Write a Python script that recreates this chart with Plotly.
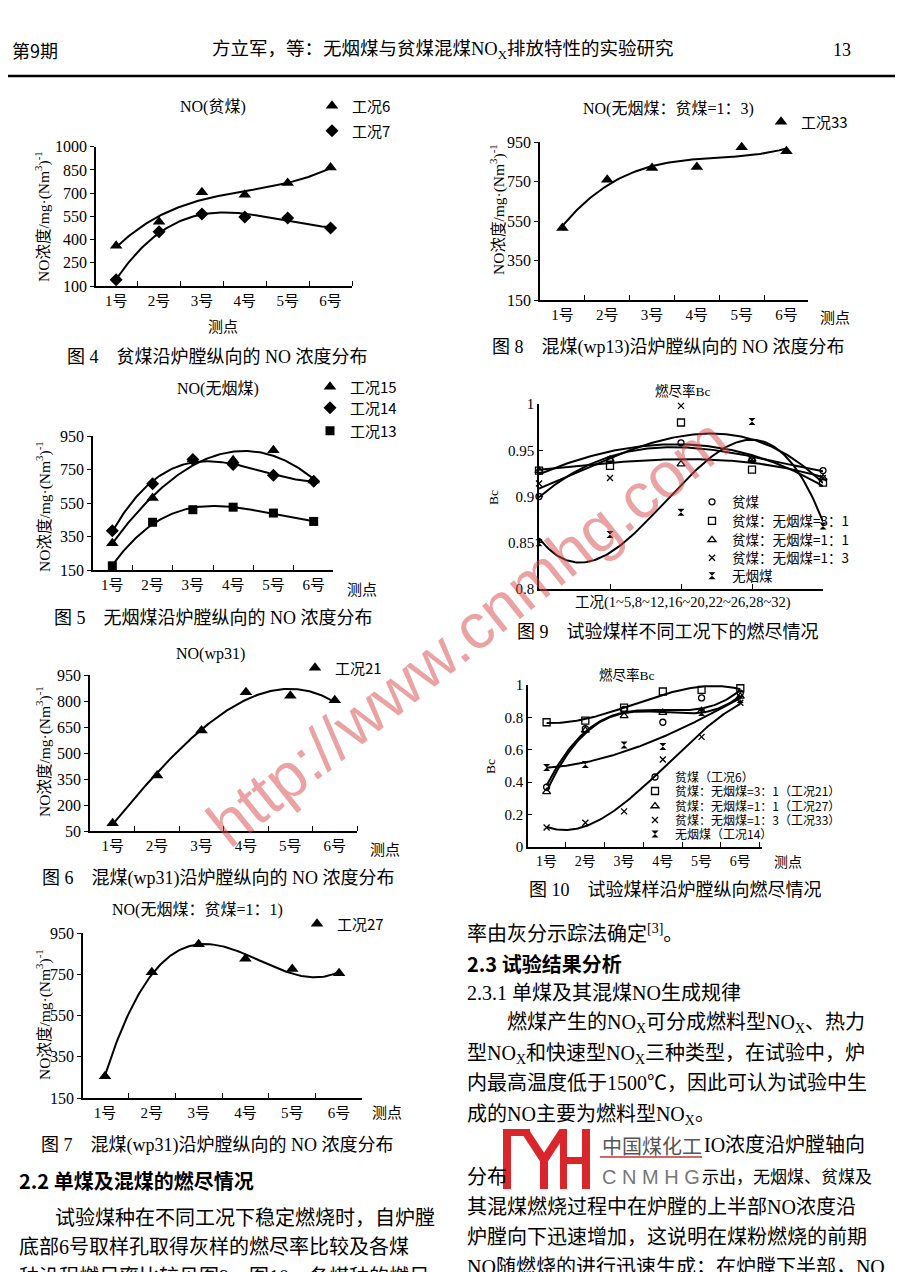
import numpy as np
import plotly.graph_objects as go

W, H = 904, 1272
OFF = 8  # page body margin of the browser
SERIF = "Liberation Serif, Noto Sans CJK SC, serif"
CJK = "Noto Sans CJK SC, Liberation Serif, sans-serif"

# ---------------- data ----------------
points = [1, 2, 3, 4, 5, 6]
point_labels = ["1号", "2号", "3号", "4号", "5号", "6号"]

fig4_case6 = [360, 515, 705, 690, 765, 865]
fig4_case7 = [140, 450, 565, 545, 540, 475]
fig8_case33 = [515, 760, 820, 825, 925, 905]
fig5_case15 = [310, 580, 810, 805, 865, 685]
fig5_case14 = [385, 665, 810, 780, 715, 680]
fig5_case13 = [175, 435, 510, 525, 490, 440]
fig6_case21 = [95, 370, 630, 850, 830, 805]
fig7_case27 = [255, 760, 895, 825, 775, 755]

fig9_groups = [1, 2, 3, 4, 5]
fig9_pin = [0.900, 0.940, 0.958, 0.940, 0.928]
fig9_r31 = [0.928, 0.933, 0.980, 0.929, 0.915]
fig9_r11 = [0.928, 0.940, 0.935, 0.940, 0.920]
fig9_r13 = [0.914, 0.920, 0.998, 0.940, 0.920]
fig9_wu = [0.850, 0.859, 0.883, 0.981, 0.868]

fig10_pin = [0.37, 0.73, 0.85, 0.77, 0.92, 0.95]
fig10_r31 = [0.77, 0.78, 0.86, 0.96, 0.97, 0.98]
fig10_r11 = [0.34, 0.72, 0.81, 0.83, 0.84, 0.93]
fig10_r13 = [0.12, 0.15, 0.22, 0.54, 0.68, 0.89]
fig10_wu = [0.49, 0.51, 0.63, 0.62, 0.83, 0.91]

no_ticks_a = [100, 250, 400, 550, 700, 850, 1000]
no_ticks_b = [150, 350, 550, 750, 950]
no_ticks_c = [50, 200, 350, 500, 650, 800, 950]
bc9_ticks = [0.8, 0.85, 0.9, 0.95, 1.0]
bc9_text = ["0.8", "0.85", "0.9", "0.95", "1"]
bc10_ticks = [0, 0.2, 0.4, 0.6, 0.8, 1.0]
bc10_text = ["0", "0.2", "0.4", "0.6", "0.8", "1"]

# ---------------- helpers ----------------
def X(px):
    return (px - OFF) / W

def Y(py):
    return 1 - (py - OFF) / H

def trend(xv, yv, deg=3, n=150):
    c = np.polyfit(xv, yv, deg)
    xs = np.linspace(min(xv), max(xv), n)
    return xs, np.polyval(c, xs)

fig = go.Figure()
layout = {}

def axes(i, left, right, top, bottom, xr, yr, yvals, ytext=None, kind="no", ytick_size=16):
    sx = "" if i == 1 else str(i)
    xa = dict(domain=[X(left), X(right)], range=xr, anchor="y" + sx,
              showline=True, linecolor="black", linewidth=1.5,
              showgrid=False, zeroline=False, fixedrange=True, automargin=False)
    if kind in ("no", "bc10"):
        xa.update(tickmode="array", tickvals=points, ticktext=point_labels, ticks="",
                  tickfont=dict(family=SERIF, size=15 if kind == "no" else 14, color="black"),
                  minor=dict(tickmode="array", tickvals=[p + 0.5 for p in points],
                             ticks="inside", ticklen=5, tickwidth=1, tickcolor="black"))
    else:
        xa.update(tickmode="array", tickvals=fig9_groups[1:], ticktext=[""] * 4,
                  ticks="inside", ticklen=5, tickcolor="black")
    ya = dict(domain=[Y(bottom), Y(top)], range=yr, anchor="x" + sx,
              showline=True, linecolor="black", linewidth=1.5,
              showgrid=False, zeroline=False, fixedrange=True, automargin=False,
              tickmode="array", tickvals=yvals,
              ticktext=ytext if ytext else [str(v) for v in yvals],
              ticks="inside" if kind != "no" else "outside", ticklen=4, tickcolor="black",
              tickfont=dict(family=SERIF, size=ytick_size, color="black"))
    layout["xaxis" + sx] = xa
    layout["yaxis" + sx] = ya
    return "x" + sx, "y" + sx

legend_count = [0]

def legend_slot(text_x, row_y, size):
    legend_count[0] += 1
    n = legend_count[0]
    key = "legend" if n == 1 else "legend%d" % n
    layout[key] = dict(x=X(text_x - 45), y=Y(row_y), xanchor="left", yanchor="middle",
                       bgcolor="rgba(0,0,0,0)", borderwidth=0, itemwidth=30,
                       font=dict(family=CJK, size=size, color="black"),
                       itemclick=False, itemdoubleclick=False)
    return key

def pts(xr_, yr_, xv, yv, name, symbol, size, slot, open_=False):
    fig.add_trace(go.Scatter(
        x=xv, y=yv, mode="markers", name=name, xaxis=xr_, yaxis=yr_,
        legend=legend_slot(*slot), cliponaxis=False,
        marker=dict(symbol=symbol, size=size, color="black",
                    line=dict(color="black", width=1.3 if open_ else 0))))

def curve(xr_, yr_, xv, yv, deg=3):
    xs, ys = trend(xv, yv, deg)
    fig.add_trace(go.Scatter(x=xs, y=ys, mode="lines", xaxis=xr_, yaxis=yr_,
                             showlegend=False, hoverinfo="skip",
                             line=dict(color="black", width=2)))

# ---------------- Fig 4 ----------------
xa, ya = axes(1, 96, 352, 146.7, 286, [0.53, 6.5], [100, 1000], no_ticks_a)
curve(xa, ya, points, fig4_case6)
curve(xa, ya, points, fig4_case7)
pts(xa, ya, points, fig4_case6, "工况6", "triangle-up", 11, (357, 106, 15))
pts(xa, ya, points, fig4_case7, "工况7", "diamond", 10, (357, 131, 15))

# ---------------- Fig 8 ----------------
xa, ya = axes(2, 540, 808, 142.3, 300, [0.5, 6.48], [150, 950], no_ticks_b)
curve(xa, ya, points, fig8_case33)
pts(xa, ya, points, fig8_case33, "工况33", "triangle-up", 11, (806, 122, 15))

# ---------------- Fig 5 ----------------
xa, ya = axes(3, 93, 333, 436, 570, [0.52, 6.48], [150, 950], no_ticks_b)
curve(xa, ya, points, fig5_case15)
curve(xa, ya, points, fig5_case14)
curve(xa, ya, points, fig5_case13)
pts(xa, ya, points, fig5_case15, "工况15", "triangle-up", 11, (355, 387, 15))
pts(xa, ya, points, fig5_case14, "工况14", "diamond", 10, (355, 408, 15))
pts(xa, ya, points, fig5_case13, "工况13", "square", 9, (355, 431, 15))

# ---------------- Fig 9 ----------------
xa, ya = axes(4, 539, 823, 404, 589, [1, 5], [0.8, 1.0], bc9_ticks, bc9_text, kind="bc9", ytick_size=15)
for s in [fig9_pin, fig9_r31, fig9_r11, fig9_r13, fig9_wu]:
    curve(xa, ya, fig9_groups, s)
pts(xa, ya, fig9_groups, fig9_pin, "贫煤", "circle-open", 6, (737, 502, 13.5), True)
pts(xa, ya, fig9_groups, fig9_r31, "贫煤：无烟煤=3：1", "square-open", 7, (737, 521, 13.5), True)
pts(xa, ya, fig9_groups, fig9_r11, "贫煤：无烟煤=1：1", "triangle-up-open", 7, (737, 540, 13.5), True)
pts(xa, ya, fig9_groups, fig9_r13, "贫煤：无烟煤=1：3", "x-thin-open", 6, (737, 558, 13.5), True)
pts(xa, ya, fig9_groups, fig9_wu, "无烟煤", "hourglass", 7, (737, 576, 13.5))

# ---------------- Fig 6 ----------------
xa, ya = axes(5, 90, 357, 675, 831, [0.49, 6.5], [50, 950], no_ticks_c)
curve(xa, ya, points, fig6_case21)
pts(xa, ya, points, fig6_case21, "工况21", "triangle-up", 11, (340, 668, 15))

# ---------------- Fig 10 ----------------
xa, ya = axes(6, 528, 762, 685, 847, [0.52, 6.56], [0, 1.0], bc10_ticks, bc10_text, kind="bc10", ytick_size=15)
for s in [fig10_pin, fig10_r31, fig10_r11, fig10_r13, fig10_wu]:
    curve(xa, ya, points, s)
pts(xa, ya, points, fig10_pin, "贫煤（工况6）", "circle-open", 6, (680, 777, 12), True)
pts(xa, ya, points, fig10_r31, "贫煤：无烟煤=3：1（工况21）", "square-open", 7, (680, 791, 12), True)
pts(xa, ya, points, fig10_r11, "贫煤：无烟煤=1：1（工况27）", "triangle-up-open", 7, (680, 806, 12), True)
pts(xa, ya, points, fig10_r13, "贫煤：无烟煤=1：3（工况33）", "x-thin-open", 6, (680, 820, 12), True)
pts(xa, ya, points, fig10_wu, "无烟煤（工况14）", "hourglass", 7, (680, 834, 12))

# ---------------- Fig 7 ----------------
xa, ya = axes(7, 83, 362, 933, 1098, [0.53, 6.49], [150, 950], no_ticks_b)
curve(xa, ya, points, fig7_case27)
pts(xa, ya, points, fig7_case27, "工况27", "triangle-up", 11, (342, 924, 15))

# ---------------- text ----------------
ann = []

def txt(x, y, s, size=15, anchor="center", family=SERIF, color="black", angle=0):
    ann.append(dict(x=X(x), y=Y(y), xref="paper", yref="paper", text=s, showarrow=False,
                    xanchor=anchor, yanchor="middle", textangle=angle,
                    font=dict(family=family, size=size, color=color)))

YT = "NO浓度/mg·(Nm<sup>3</sup>)<sup>-1</sup>"
TS = 16    # chart title size
CS = 18    # caption size

# header
txt(10, 50, "第9期", 18, "left", CJK)
txt(443, 50, "方立军，等：无烟煤与贫煤混煤NO<sub>X</sub>排放特性的实验研究", 18.5, "center", SERIF)
txt(853, 50, "13", 18, "right")

# fig 4
txt(213, 107, "NO(贫煤)", TS)
txt(43, 217, YT, 15.5, angle=-90)
txt(223, 327, "测点", 15)
txt(217, 357, "图 4　贫煤沿炉膛纵向的 NO 浓度分布", CS)
# fig 8
txt(668, 109, "NO(无烟煤：贫煤=1：3)", TS)
txt(497, 210, YT, 15.5, angle=-90)
txt(835, 318, "测点", 15)
txt(668, 347, "图 8　混煤(wp13)沿炉膛纵向的 NO 浓度分布", CS)
# fig 5
txt(218, 389, "NO(无烟煤)", TS)
txt(43, 507, YT, 15.5, angle=-90)
txt(362, 590, "测点", 15)
txt(213, 618, "图 5　无烟煤沿炉膛纵向的 NO 浓度分布", CS)
# fig 9
txt(683, 391, "燃尽率Bc", 13.5)
txt(493, 498, "Bc", 13.5, angle=-90)
txt(683, 602, "工况(1~5,8~12,16~20,22~26,28~32)", 14.5)
txt(668, 632, "图 9　试验煤样不同工况下的燃尽情况", CS)
# fig 6
txt(210, 654, "NO(wp31)", TS)
txt(43, 752, YT, 15.5, angle=-90)
txt(385, 850, "测点", 15)
txt(218, 878, "图 6　混煤(wp31)沿炉膛纵向的 NO 浓度分布", CS)
# fig 10
txt(627, 675, "燃尽率Bc", 13.5)
txt(490, 767, "Bc", 13.5, angle=-90)
txt(788, 862, "测点", 14)
txt(675, 890, "图 10　试验煤样沿炉膛纵向燃尽情况", CS)
# fig 7
txt(197, 910, "NO(无烟煤：贫煤=1：1)", TS)
txt(43, 1015, YT, 15.5, angle=-90)
txt(387, 1113, "测点", 15)
txt(217, 1145, "图 7　混煤(wp31)沿炉膛纵向的 NO 浓度分布", CS)

# body text, left column
BS = 20
txt(17, 1180, "<b>2.2 单煤及混煤的燃尽情况</b>", BS, "left", CJK)
txt(53, 1218, "试验煤种在不同工况下稳定燃烧时，自炉膛", BS, "left", SERIF)
txt(17, 1247, "底部6号取样孔取得灰样的燃尽率比较及各煤", BS, "left", SERIF)
txt(17, 1277, "种沿程燃尽率比较见图9、图10，各煤种的燃尽", BS, "left", SERIF)

# body text, right column
txt(465, 933, "率由灰分示踪法确定<sup>[3]</sup>。", BS, "left", SERIF)
txt(465, 963, "<b>2.3 试验结果分析</b>", BS, "left", CJK)
txt(465, 993, "2.3.1 单煤及其混煤NO生成规律", BS, "left", SERIF)
txt(505, 1023, "燃煤产生的NO<sub>X</sub>可分成燃料型NO<sub>X</sub>、热力", BS, "left", SERIF)
txt(465, 1054, "型NO<sub>X</sub>和快速型NO<sub>X</sub>三种类型，在试验中，炉", BS, "left", SERIF)
txt(465, 1083, "内最高温度低于1500℃，因此可认为试验中生", BS, "left", SERIF)
txt(465, 1115, "成的NO主要为燃料型NO<sub>X</sub>。", BS, "left", SERIF)
txt(600, 1145, "中国煤化工", BS, "left", CJK, "#555555")
txt(702, 1145, "IO浓度沿炉膛轴向", BS, "left", SERIF)
txt(465, 1177, "分布", BS, "left", SERIF)
txt(600, 1177, "C N M H G", BS, "left", "Liberation Sans, sans-serif", "#777777")
txt(700, 1177, "示出，无烟煤、贫煤及", 17, "left", SERIF)
txt(465, 1207, "其混煤燃烧过程中在炉膛的上半部NO浓度沿", BS, "left", SERIF)
txt(465, 1237, "炉膛向下迅速增加，这说明在煤粉燃烧的前期", BS, "left", SERIF)
txt(465, 1267, "NO随燃烧的进行迅速生成；在炉膛下半部，NO", BS, "left", SERIF)

# watermark
ann.append(dict(x=X(468), y=Y(632), xref="paper", yref="paper", text="http://www.cnmhg.com",
                showarrow=False, textangle=-38.5,
                font=dict(family="Liberation Sans, sans-serif", size=64, color="rgba(215,70,70,0.5)")))

# shapes: header rule and logo
shapes = [
    dict(type="line", xref="paper", yref="paper", x0=X(8), x1=X(895), y0=Y(76), y1=Y(76),
         line=dict(color="black", width=2.5)),
    dict(type="line", xref="paper", yref="paper", x0=X(600), x1=X(702), y0=Y(1157), y1=Y(1157),
         line=dict(color="#cc3333", width=1.5)),
]
RED = "#d8262b"
def rect(x0, x1, y0, y1):
    shapes.append(dict(type="rect", xref="paper", yref="paper", x0=X(x0), x1=X(x1),
                       y0=Y(y1), y1=Y(y0), fillcolor=RED, line=dict(width=0)))
def seg(x0, y0, x1, y1, w):
    shapes.append(dict(type="line", xref="paper", yref="paper", x0=X(x0), x1=X(x1),
                       y0=Y(y0), y1=Y(y1), line=dict(color=RED, width=w)))
rect(503, 511, 1129, 1189)
rect(503, 530, 1129, 1136)
seg(525, 1131, 544, 1160, 8)
seg(563, 1131, 544, 1160, 8)
rect(540, 548, 1156, 1189)
rect(560, 567, 1129, 1189)
rect(582, 590, 1129, 1189)
rect(560, 590, 1157, 1164)

layout.update(width=W, height=H, margin=dict(l=0, r=0, t=0, b=0, pad=0, autoexpand=False),
              paper_bgcolor="white", plot_bgcolor="white",
              annotations=ann, shapes=shapes, hovermode=False)
fig.update_layout(**layout)
fig.write_html("out.html", config={"displayModeBar": False})
